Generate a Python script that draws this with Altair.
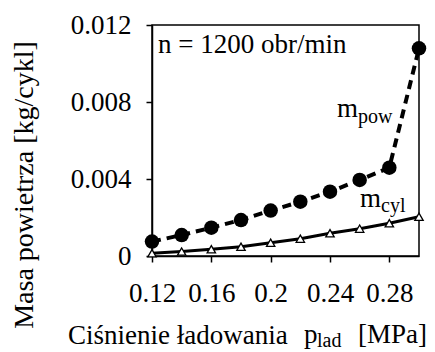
import altair as alt
import pandas as pd

# ---- data ----
p_lad = [0.12, 0.14, 0.16, 0.18, 0.20, 0.22, 0.24, 0.26, 0.28, 0.30]
m_pow = [0.00075, 0.00109, 0.00147, 0.00187, 0.00236, 0.00282, 0.00334, 0.00395, 0.00459, 0.01079]
m_cyl = [0.00014, 0.00023, 0.00035, 0.00048, 0.00069, 0.00090, 0.00118, 0.00142, 0.00170, 0.00204]

x_ticks = [0.12, 0.14, 0.16, 0.18, 0.20, 0.22, 0.24, 0.26, 0.28, 0.30]
y_ticks = [0, 0.002, 0.004, 0.006, 0.008, 0.010, 0.012]

title_note = "n = 1200 obr/min"
x_title_main = "Ciśnienie ładowania"
x_title_sym = "p"
x_title_sub = "lad"
x_title_unit = "[MPa]"
y_title = "Masa powietrza  [kg/cykl]"
lab_pow = ("m", "pow")
lab_cyl = ("m", "cyl")

FONT = "Liberation Serif"
FS = 27
FS_SUB = 20

df = pd.DataFrame({"p": p_lad, "m_pow": m_pow, "m_cyl": m_cyl})

xscale = alt.Scale(domain=[0.12, 0.30], nice=False, zero=False)
yscale = alt.Scale(domain=[0, 0.012], nice=False)

xaxis = alt.Axis(
    values=x_ticks,
    labelExpr="(round(datum.value*100) % 4 == 0 && datum.value < 0.29) ? format(datum.value, '~g') : ''",
    title="", grid=False, labelFlush=False, labelOverlap=False,
    labelFont=FONT, labelFontSize=FS, labelColor="black", labelPadding=18,
)
yaxis = alt.Axis(
    values=y_ticks,
    labelExpr="(round(datum.value*1000) % 4 == 0) ? format(datum.value, '~g') : ''",
    title="", grid=False, labelOverlap=False,
    labelFont=FONT, labelFontSize=FS, labelColor="black", labelPadding=15,
)

base = alt.Chart(df)

pow_line = base.mark_line(color="black", strokeWidth=4, strokeDash=[9, 6]).encode(
    x=alt.X("p:Q", scale=xscale, axis=xaxis),
    y=alt.Y("m_pow:Q", scale=yscale, axis=yaxis),
)
pow_pts = base.mark_point(shape="circle", filled=True, color="black", size=210, opacity=1).encode(
    x=alt.X("p:Q", scale=xscale), y=alt.Y("m_pow:Q", scale=yscale)
)
cyl_line = base.mark_line(color="black", strokeWidth=3).encode(
    x=alt.X("p:Q", scale=xscale), y=alt.Y("m_cyl:Q", scale=yscale)
)
cyl_pts = base.mark_point(shape="triangle-up", filled=True, fill="white", stroke="black",
                          strokeWidth=1.3, size=70, opacity=1).encode(
    x=alt.X("p:Q", scale=xscale), y=alt.Y("m_cyl:Q", scale=yscale)
)


def txt(s, x, y, size=FS, align="left", angle=0):
    kw = dict(font=FONT, fontSize=size, align=align, baseline="alphabetic", color="black", text=s)
    if angle:
        kw["angle"] = angle
    return alt.Chart(pd.DataFrame({"t": [s]})).mark_text(**kw).encode(
        x=alt.value(x), y=alt.value(y)
    )


texts = [
    txt(title_note, 6, 28),
    txt(lab_pow[0], 185, 92),
    txt(lab_pow[1], 206, 98, size=FS_SUB),
    txt(lab_cyl[0], 208, 182),
    txt(lab_cyl[1], 229, 187, size=FS_SUB),
    txt(x_title_main, -84, 319),
    txt(x_title_sym, 152, 318),
    txt(x_title_sub, 165, 322, size=FS_SUB),
    txt(x_title_unit, 206, 318),
    txt(y_title, -119, 160, size=28, align="center", angle=270),
]

chart = alt.layer(cyl_line, pow_line, pow_pts, cyl_pts, *texts).properties(
    width=267, height=231,
    background="white",
    autosize=alt.AutoSizeParams(type="none"),
    padding={"left": 144, "top": 17, "right": 8, "bottom": 96},
).configure_view(
    stroke="black", strokeWidth=1.5
).configure_axis(
    domainColor="black", domainWidth=1.5, tickColor="black", tickWidth=1.5, tickSize=6,
)

chart.save("out.html", embed_options={"renderer": "svg", "actions": False})
